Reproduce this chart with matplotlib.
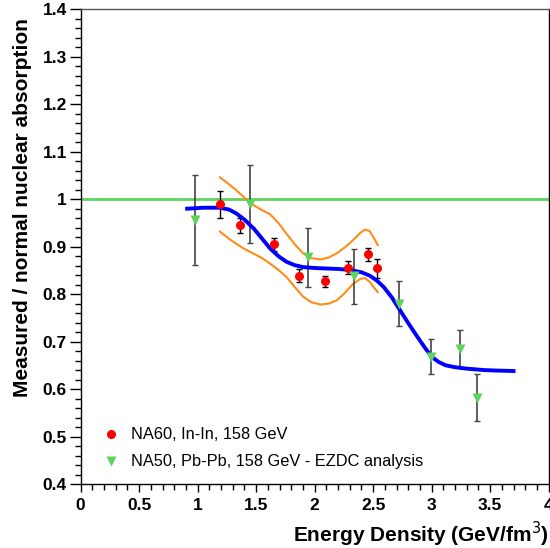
import numpy as np
import matplotlib
matplotlib.use('Agg')
import matplotlib.pyplot as plt
from matplotlib.ticker import MultipleLocator

plt.rcParams['font.family'] = ['Liberation Sans', 'DejaVu Sans']

# NA60 In-In points
na60_x = [1.19, 1.36, 1.655, 1.867, 2.092, 2.286, 2.457, 2.536]
na60_y = [0.989, 0.945, 0.905, 0.839, 0.827, 0.856, 0.884, 0.854]
na60_err = [0.028, 0.016, 0.014, 0.014, 0.012, 0.013, 0.014, 0.021]

# NA50 Pb-Pb points
na50_x = [0.977, 1.448, 1.946, 2.339, 2.722, 2.995, 3.243, 3.386]
na50_y = [0.956, 0.990, 0.878, 0.838, 0.780, 0.668, 0.685, 0.582]
na50_err = [0.095, 0.082, 0.062, 0.058, 0.048, 0.037, 0.039, 0.050]

# fit curve
fit_x = [0.91, 1.05, 1.19, 1.27, 1.33, 1.40, 1.48, 1.55, 1.62, 1.69, 1.76, 1.83, 1.90,
         2.00, 2.10, 2.20, 2.30, 2.40, 2.47, 2.53, 2.59, 2.66, 2.73, 2.80, 2.87, 2.94,
         3.00, 3.06, 3.12, 3.20, 3.30, 3.45, 3.55, 3.70]
fit_y = [0.980, 0.982, 0.982, 0.978, 0.970, 0.957, 0.938, 0.917, 0.896, 0.880, 0.868, 0.861, 0.857,
         0.855, 0.854, 0.853, 0.851, 0.846, 0.839, 0.829, 0.815, 0.793, 0.766, 0.739, 0.713, 0.688,
         0.668, 0.657, 0.650, 0.646, 0.643, 0.640, 0.639, 0.638]

# band around the fit
band_x = [1.19, 1.26, 1.33, 1.40, 1.48, 1.55, 1.62, 1.69, 1.76, 1.83, 1.90, 1.97, 2.05,
          2.12, 2.19, 2.26, 2.33, 2.39, 2.43, 2.47, 2.50, 2.54]
band_hi = [1.046, 1.033, 1.019, 1.003, 0.987, 0.977, 0.968, 0.950, 0.927, 0.905, 0.886, 0.876, 0.873,
           0.877, 0.886, 0.899, 0.914, 0.929, 0.936, 0.933, 0.921, 0.903]
band_lo = [0.932, 0.918, 0.906, 0.895, 0.885, 0.876, 0.864, 0.851, 0.836, 0.815, 0.795, 0.783, 0.778,
           0.780, 0.787, 0.803, 0.822, 0.832, 0.834, 0.826, 0.816, 0.804]

fig = plt.figure(figsize=(5.5, 5.48), dpi=100)
ax = fig.add_axes([0.1467, 0.1168, 0.8508, 0.8662])

ax.axhline(1.0, color='#5fd35f', lw=2.0, zorder=1)

ax.plot(band_x, band_hi, color='#ff8c1a', lw=1.5, zorder=2)
ax.plot(band_x, band_lo, color='#ff8c1a', lw=1.5, zorder=2)

ax.errorbar(na50_x, na50_y, yerr=na50_err, fmt='none', ecolor='#444444',
            elinewidth=1.2, capsize=2, capthick=1, zorder=3)
ax.errorbar(na60_x, na60_y, yerr=na60_err, fmt='none', ecolor='black',
            elinewidth=1.0, capsize=2, capthick=1, zorder=3)

ax.plot(fit_x, fit_y, color='#0000ff', lw=2.8, solid_joinstyle='round', zorder=4)

ax.plot(na60_x, na60_y, 'o', color='#ff0000', ms=6.5, mec='none', zorder=5,
        label='NA60, In-In, 158 GeV')
ax.plot(na50_x, na50_y, 'v', color='#5fd35f', ms=7, mec='none', zorder=5,
        label='NA50, Pb-Pb, 158 GeV - EZDC analysis')

ax.set_xlim(0, 4)
ax.set_ylim(0.4, 1.4)
ax.xaxis.set_minor_locator(MultipleLocator(0.1))
ax.yaxis.set_minor_locator(MultipleLocator(0.02))
ax.set_xticks([0, 0.5, 1, 1.5, 2, 2.5, 3, 3.5, 4])
ax.set_xticklabels(['0', '0.5', '1', '1.5', '2', '2.5', '3', '3.5', '4'])
ax.set_yticks([0.4, 0.5, 0.6, 0.7, 0.8, 0.9, 1.0, 1.1, 1.2, 1.3, 1.4])
ax.set_yticklabels(['0.4', '0.5', '0.6', '0.7', '0.8', '0.9', '1', '1.1', '1.2', '1.3', '1.4'])
ax.tick_params(axis='y', which='major', direction='out', length=8, width=1, labelsize=12.5, pad=2)
ax.tick_params(axis='y', which='minor', direction='out', length=4, width=1)
ax.tick_params(axis='x', which='major', direction='out', length=6, width=1, labelsize=12.5, pad=4)
ax.tick_params(axis='x', which='minor', direction='out', length=4, width=1)
for lab in ax.get_xticklabels() + ax.get_yticklabels():
    lab.set_fontweight('bold')
for s in ax.spines.values():
    s.set_linewidth(1.0)
ax.spines['top'].set_color('#555555')

ax.set_ylabel('Measured / normal nuclear absorption', fontsize=15, fontweight='bold')
ax.yaxis.set_label_coords(-0.104, 0.583)
ax.set_xlabel('Energy Density (GeV/fm$^3$)', fontsize=15, fontweight='bold', ha='right', x=1.0,
              labelpad=5)

ax.legend(loc='lower left', bbox_to_anchor=(0.015, 0.0), frameon=False, fontsize=11.8,
          handlelength=1.0, handletextpad=0.75, labelspacing=0.72, numpoints=1)

fig.savefig('out.png', dpi=100)
